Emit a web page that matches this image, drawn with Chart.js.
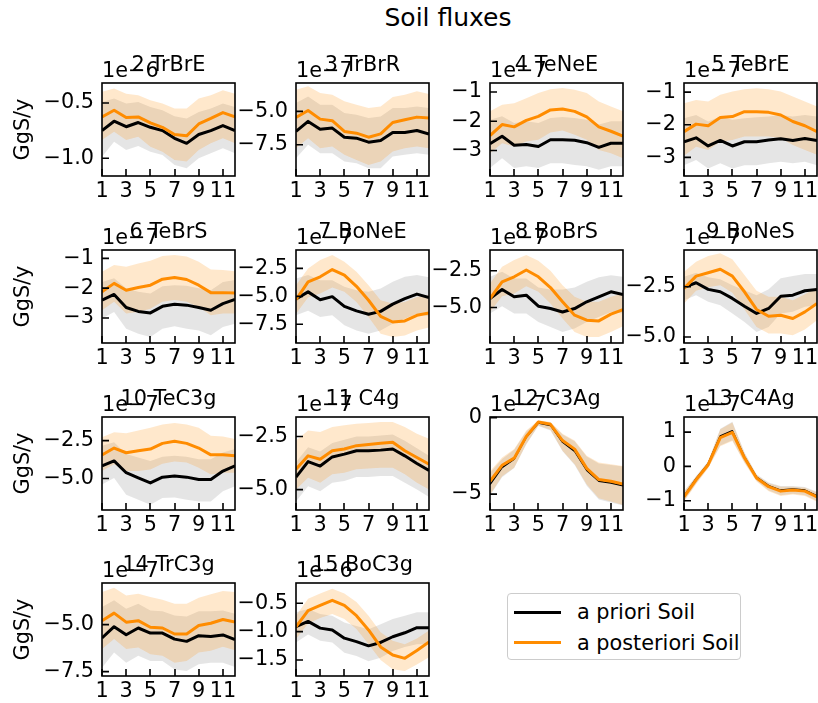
<!DOCTYPE html>
<html>
<head>
<meta charset="utf-8">
<script src="https://cdn.jsdelivr.net/npm/chart.js@4.4.1/dist/chart.umd.min.js"></script>
<style>
html,body{margin:0;padding:0;background:#fff;}
body{width:818px;height:703px;position:relative;overflow:hidden;font-family:"DejaVu Sans",sans-serif;}
#suptitle{position:absolute;left:298px;top:5px;width:300px;text-align:center;font-size:25px;line-height:25px;color:#000;}
#legend{position:absolute;left:507px;top:593px;width:234px;height:67px;border:1px solid #cccccc;border-radius:4px;box-sizing:border-box;background:#fff;}
.lg-line{position:absolute;left:6px;width:47px;height:3px;}
.lg-text{position:absolute;left:69px;font-size:20.8px;line-height:24px;white-space:nowrap;color:#000;}
canvas{position:absolute;}
</style>
</head>
<body>
<div id="suptitle">Soil fluxes</div>
<div id="legend">
  <div class="lg-line" style="top:17px;background:#000;"></div>
  <div class="lg-text" style="top:6px;">a priori Soil</div>
  <div class="lg-line" style="top:47px;background:#ff8c00;"></div>
  <div class="lg-text" style="top:37px;">a posteriori Soil</div>
</div>
<script>
// ---------------- DATA ----------------
const months = [1,2,3,4,5,6,7,8,9,10,11,12];
const xTicks = [1,3,5,7,9,11];
const xTickLabels = ['1','3','5','7','9','11'];
const seriesLabels = ['a priori Soil','a posteriori Soil'];

// Panel 2 TrBrE (x1e-6)
const p2_prior   = [-0.75,-0.665,-0.715,-0.677,-0.72,-0.75,-0.82,-0.865,-0.785,-0.75,-0.705,-0.75];
const p2_priorHi = [-0.491,-0.461,-0.506,-0.491,-0.536,-0.566,-0.62,-0.641,-0.581,-0.551,-0.506,-0.536];
const p2_priorLo = [-0.985,-0.85,-0.925,-0.89,-0.94,-0.97,-1.06,-1.09,-1.0,-0.955,-0.91,-0.955];
const p2_post    = [-0.626,-0.566,-0.632,-0.626,-0.68,-0.72,-0.785,-0.797,-0.69,-0.64,-0.587,-0.626];
const p2_postHi  = [-0.40,-0.37,-0.416,-0.43,-0.476,-0.506,-0.55,-0.55,-0.46,-0.43,-0.386,-0.416];
const p2_postLo  = [-0.835,-0.76,-0.835,-0.805,-0.895,-0.94,-1.015,-1.03,-0.925,-0.865,-0.82,-0.865];
const p2_yTicks = [-1.0,-0.5]; const p2_yLabels = ['−1.0','−0.5']; const p2_yRange = [-1.16,-0.32];

// Panel 3 TrBrR (x1e-7)
const p3_prior   = [-6.5,-5.75,-6.33,-6.25,-6.93,-7.0,-7.3,-7.18,-6.58,-6.58,-6.43,-6.7];
const p3_priorHi = [-4.38,-3.88,-4.5,-4.5,-5.13,-5.25,-5.5,-5.38,-4.75,-4.75,-4.63,-4.75];
const p3_priorLo = [-8.5,-7.5,-8.13,-8.13,-8.75,-8.88,-9.25,-9.25,-8.38,-8.25,-8.13,-8.25];
const p3_post    = [-5.45,-4.93,-5.58,-5.7,-6.5,-6.63,-6.93,-6.68,-5.83,-5.63,-5.43,-5.5];
const p3_postHi  = [-3.38,-3.13,-3.63,-3.75,-4.25,-4.5,-4.75,-4.63,-3.93,-3.75,-3.5,-3.7];
const p3_postLo  = [-7.75,-7.0,-7.75,-7.63,-8.25,-8.63,-9.0,-8.75,-8.0,-7.75,-7.63,-7.75];
const p3_yTicks = [-7.5,-5.0]; const p3_yLabels = ['−7.5','−5.0']; const p3_yRange = [-9.83,-2.88];

// Panel 4 TeNeE (x1e-7)
const p4_prior   = [-2.77,-2.51,-2.82,-2.79,-2.86,-2.63,-2.63,-2.65,-2.73,-2.89,-2.75,-2.75];
const p4_priorHi = [-1.95,-1.83,-2.06,-2.0,-2.06,-1.89,-1.85,-1.89,-1.95,-2.11,-2.0,-2.0];
const p4_priorLo = [-3.6,-3.26,-3.6,-3.54,-3.6,-3.43,-3.43,-3.49,-3.54,-3.66,-3.54,-3.54];
const p4_post    = [-2.49,-2.11,-2.19,-1.97,-1.83,-1.61,-1.58,-1.66,-1.85,-2.19,-2.34,-2.51];
const p4_postHi  = [-1.66,-1.43,-1.38,-1.21,-1.03,-0.9,-0.86,-0.92,-1.03,-1.32,-1.49,-1.66];
const p4_postLo  = [-3.09,-2.75,-2.86,-2.69,-2.63,-2.38,-2.31,-2.46,-2.63,-2.98,-3.09,-3.26];
const p4_yTicks = [-3,-2,-1]; const p4_yLabels = ['−3','−2','−1']; const p4_yRange = [-3.87,-0.69];

// Panel 5 TeBrE (x1e-7)
const p5_prior   = [-2.52,-2.4,-2.65,-2.48,-2.65,-2.52,-2.52,-2.47,-2.43,-2.48,-2.42,-2.48];
const p5_priorHi = [-1.8,-1.7,-1.9,-1.75,-1.85,-1.8,-1.77,-1.75,-1.7,-1.75,-1.7,-1.75];
const p5_priorLo = [-3.24,-3.08,-3.34,-3.18,-3.34,-3.24,-3.24,-3.18,-3.13,-3.18,-3.13,-3.24];
const p5_post    = [-2.21,-1.98,-2.03,-1.78,-1.75,-1.6,-1.6,-1.62,-1.7,-1.9,-2.03,-2.21];
const p5_postHi  = [-1.34,-1.24,-1.29,-1.08,-0.98,-0.91,-0.88,-0.91,-0.98,-1.13,-1.29,-1.44];
const p5_postLo  = [-2.95,-2.67,-2.77,-2.52,-2.47,-2.36,-2.36,-2.36,-2.41,-2.62,-2.77,-2.92];
const p5_yTicks = [-3,-2,-1]; const p5_yLabels = ['−3','−2','−1']; const p5_yRange = [-3.57,-0.72];

// Panel 6 TeBrS (x1e-7)
const p6_prior   = [-2.4,-2.21,-2.65,-2.78,-2.83,-2.61,-2.54,-2.57,-2.65,-2.74,-2.52,-2.38];
const p6_priorHi = [-1.79,-1.67,-2.0,-2.12,-2.18,-1.94,-1.9,-1.92,-2.0,-2.07,-1.79,-1.73];
const p6_priorLo = [-3.02,-2.8,-3.36,-3.53,-3.64,-3.36,-3.28,-3.36,-3.42,-3.58,-3.3,-3.19];
const p6_post    = [-2.12,-1.84,-2.07,-1.98,-1.9,-1.7,-1.64,-1.71,-1.9,-2.15,-2.15,-2.16];
const p6_postHi  = [-1.45,-1.22,-1.28,-1.17,-1.08,-0.92,-0.89,-0.94,-1.11,-1.37,-1.39,-1.43];
const p6_postLo  = [-2.74,-2.46,-2.85,-2.8,-2.69,-2.46,-2.4,-2.46,-2.63,-2.91,-2.85,-2.85];
const p6_yTicks = [-3,-2,-1]; const p6_yLabels = ['−3','−2','−1']; const p6_yRange = [-3.84,-0.72];

// Panel 7 BoNeE (x1e-7)
const p7_prior   = [-5.24,-4.6,-5.3,-5.03,-5.9,-6.3,-6.6,-6.35,-5.7,-5.2,-4.8,-5.1];
const p7_priorHi = [-3.4,-3.1,-3.55,-3.55,-4.15,-4.45,-4.6,-4.3,-3.7,-3.25,-3.1,-3.3];
const p7_priorLo = [-6.7,-6.3,-6.85,-6.7,-7.6,-8.05,-8.35,-8.05,-7.45,-7.0,-6.55,-6.8];
const p7_post    = [-5.3,-3.7,-3.25,-2.6,-3.1,-4.1,-5.35,-6.8,-7.3,-7.2,-6.7,-6.5];
const p7_postHi  = [-4.0,-2.5,-1.75,-1.3,-1.9,-2.8,-4.0,-5.35,-5.65,-5.5,-5.05,-4.9];
const p7_postLo  = [-6.55,-5.1,-4.75,-4.2,-4.6,-5.5,-6.85,-8.35,-8.65,-8.5,-8.05,-7.8];
const p7_yTicks = [-7.5,-5.0,-2.5]; const p7_yLabels = ['−7.5','−5.0','−2.5']; const p7_yRange = [-9.18,-0.85];

// Panel 8 BoBrS (x1e-7)
const p8_prior   = [-4.39,-3.77,-4.27,-4.16,-4.91,-5.07,-5.3,-5.07,-4.61,-4.27,-3.93,-4.11];
const p8_priorHi = [-2.91,-2.57,-3.02,-3.02,-3.64,-3.77,-3.77,-3.64,-3.25,-2.95,-2.8,-2.91];
const p8_priorLo = [-5.41,-4.91,-5.41,-5.41,-5.98,-6.32,-6.66,-6.43,-5.98,-5.64,-5.3,-5.41];
const p8_post    = [-4.39,-3.25,-2.91,-2.45,-2.91,-3.64,-4.61,-5.52,-5.86,-5.91,-5.45,-5.14];
const p8_postHi  = [-3.36,-2.23,-1.77,-1.43,-1.82,-2.5,-3.48,-4.27,-4.61,-4.61,-4.27,-4.05];
const p8_postLo  = [-5.3,-4.23,-4.05,-3.55,-3.93,-4.73,-5.75,-6.66,-7.0,-7.0,-6.66,-6.27];
const p8_yTicks = [-5.0,-2.5]; const p8_yLabels = ['−5.0','−2.5']; const p8_yRange = [-7.41,-1.09];

// Panel 9 BoNeS (x1e-7)
const p9_prior   = [-2.53,-2.3,-2.63,-2.75,-3.08,-3.47,-3.83,-3.58,-2.97,-2.92,-2.7,-2.63];
const p9_priorHi = [-2.0,-1.8,-2.03,-2.13,-2.42,-2.67,-2.92,-2.63,-2.08,-1.97,-1.87,-1.87];
const p9_priorLo = [-3.17,-2.92,-3.25,-3.42,-3.83,-4.25,-4.75,-4.5,-3.83,-3.75,-3.5,-3.42];
const p9_post    = [-2.58,-1.97,-1.8,-1.63,-1.97,-2.75,-3.63,-3.97,-3.92,-4.08,-3.75,-3.33];
const p9_postHi  = [-1.75,-1.25,-0.97,-0.83,-1.13,-1.92,-2.7,-3.0,-3.0,-3.17,-2.87,-2.53];
const p9_postLo  = [-3.33,-2.7,-2.53,-2.42,-2.8,-3.63,-4.5,-4.83,-4.83,-4.92,-4.63,-4.17];
const p9_yTicks = [-5.0,-2.5]; const p9_yLabels = ['−5.0','−2.5']; const p9_yRange = [-5.3,-0.67];

// Panel 10 TeC3g (x1e-7)
const p10_prior   = [-4.17,-3.84,-4.62,-4.96,-5.29,-4.91,-4.84,-4.91,-5.07,-5.07,-4.51,-4.17];
const p10_priorHi = [-2.83,-2.61,-3.39,-3.62,-3.84,-3.57,-3.5,-3.57,-3.73,-3.73,-3.28,-3.06];
const p10_priorLo = [-5.4,-4.96,-6.07,-6.41,-6.74,-6.29,-6.25,-6.41,-6.52,-6.52,-5.85,-5.51];
const p10_post    = [-3.44,-2.99,-3.3,-3.17,-3.06,-2.68,-2.54,-2.68,-2.99,-3.44,-3.44,-3.5];
const p10_postHi  = [-2.28,-1.94,-2.01,-1.83,-1.65,-1.43,-1.34,-1.43,-1.65,-2.17,-2.23,-2.39];
const p10_postLo  = [-4.51,-4.06,-4.51,-4.51,-4.4,-4.02,-3.88,-3.95,-4.29,-4.73,-4.62,-4.62];
const p10_yTicks = [-5.0,-2.5]; const p10_yLabels = ['−5.0','−2.5']; const p10_yRange = [-7.08,-0.94];

// Panel 11 C4g (x1e-7)
const p11_prior   = [-4.41,-3.68,-3.89,-3.46,-3.33,-3.17,-3.17,-3.14,-3.09,-3.41,-3.77,-4.1];
const p11_priorHi = [-3.7,-3.0,-3.2,-2.8,-2.65,-2.5,-2.5,-2.45,-2.4,-2.7,-3.05,-3.4];
const p11_priorLo = [-5.56,-4.84,-5.08,-4.68,-4.6,-4.41,-4.41,-4.36,-4.36,-4.68,-5.0,-5.35];
const p11_post    = [-4.04,-3.41,-3.57,-3.17,-3.09,-2.93,-2.88,-2.82,-2.77,-3.17,-3.49,-3.8];
const p11_postHi  = [-2.69,-2.21,-2.29,-2.05,-1.97,-1.9,-1.86,-1.82,-1.82,-2.05,-2.37,-2.6];
const p11_postLo  = [-5.0,-4.44,-4.68,-4.28,-4.2,-4.04,-4.0,-3.97,-3.97,-4.28,-4.68,-5.0];
const p11_yTicks = [-5.0,-2.5]; const p11_yLabels = ['−5.0','−2.5']; const p11_yRange = [-5.96,-1.58];

// Panel 12 C3Ag (x1e-7)
const p12_prior   = [-4.38,-3.27,-2.72,-1.28,-0.35,-0.51,-1.61,-2.21,-3.45,-4.16,-4.27,-4.45];
const p12_priorHi = [-3.6,-2.7,-2.1,-0.9,-0.2,-0.3,-1.1,-1.55,-2.55,-3.0,-3.1,-3.2];
const p12_priorLo = [-5.1,-3.9,-3.3,-1.75,-0.55,-0.85,-2.2,-3.1,-4.45,-5.35,-5.55,-5.75];
const p12_post    = [-4.16,-3.12,-2.65,-1.24,-0.29,-0.44,-1.5,-2.06,-3.32,-4.05,-4.16,-4.34];
const p12_postHi  = [-3.5,-2.61,-2.06,-0.84,-0.18,-0.29,-1.06,-1.5,-2.5,-2.94,-3.05,-3.16];
const p12_postLo  = [-5.05,-3.83,-3.27,-1.72,-0.51,-0.8,-2.17,-3.05,-4.38,-5.27,-5.49,-5.71];
const p12_yTicks = [-5,0]; const p12_yLabels = ['−5','0']; const p12_yRange = [-6.04,0.04];

// Panel 13 C4Ag (x1e-7)
const p13_prior   = [-0.86,-0.36,0.08,0.89,1.04,0.28,-0.31,-0.56,-0.69,-0.66,-0.69,-0.86];
const p13_priorHi = [-0.72,-0.28,0.15,1.1,1.3,0.41,-0.23,-0.47,-0.57,-0.57,-0.6,-0.74];
const p13_priorLo = [-1.01,-0.5,-0.03,0.61,0.76,0.12,-0.42,-0.7,-0.84,-0.8,-0.84,-1.01];
const p13_post    = [-0.89,-0.39,0.05,0.84,0.99,0.25,-0.34,-0.59,-0.72,-0.69,-0.72,-0.89];
const p13_postHi  = [-0.74,-0.3,0.13,1.08,1.28,0.39,-0.25,-0.49,-0.59,-0.59,-0.62,-0.76];
const p13_postLo  = [-1.03,-0.52,-0.05,0.59,0.74,0.1,-0.44,-0.72,-0.86,-0.82,-0.86,-1.03];
const p13_yTicks = [-1,0,1]; const p13_yLabels = ['−1','0','1']; const p13_yRange = [-1.27,1.44];

// Panel 14 TrC3g (x1e-7)
const p14_prior   = [-5.71,-5.11,-5.54,-5.18,-5.45,-5.45,-5.77,-5.89,-5.59,-5.63,-5.55,-5.8];
const p14_priorHi = [-4.07,-3.71,-4.16,-3.89,-4.25,-4.29,-4.52,-4.57,-4.29,-4.29,-4.25,-4.43];
const p14_priorLo = [-7.29,-6.48,-7.02,-6.66,-6.93,-6.93,-7.38,-7.46,-7.11,-7.02,-7.02,-7.25];
const p14_post    = [-4.79,-4.39,-4.87,-4.79,-5.14,-5.18,-5.5,-5.5,-5.05,-4.93,-4.73,-4.87];
const p14_postHi  = [-3.27,-3.04,-3.45,-3.36,-3.54,-3.68,-3.89,-3.89,-3.57,-3.39,-3.21,-3.27];
const p14_postLo  = [-6.3,-5.77,-6.3,-6.21,-6.57,-6.66,-7.02,-6.93,-6.48,-6.39,-6.18,-6.36];
const p14_yTicks = [-7.5,-5.0]; const p14_yLabels = ['−7.5','−5.0']; const p14_yRange = [-7.73,-2.79];

// Panel 15 BoC3g (x1e-6)
const p15_prior   = [-0.914,-0.82,-0.938,-0.973,-1.115,-1.175,-1.25,-1.19,-1.09,-1.02,-0.93,-0.93];
const p15_priorHi = [-0.66,-0.6,-0.69,-0.72,-0.84,-0.9,-0.96,-0.87,-0.78,-0.72,-0.66,-0.66];
const p15_priorLo = [-1.19,-1.05,-1.16,-1.19,-1.37,-1.43,-1.52,-1.46,-1.34,-1.27,-1.22,-1.22];
const p15_post    = [-0.914,-0.63,-0.54,-0.45,-0.54,-0.72,-0.97,-1.27,-1.41,-1.47,-1.33,-1.18];
const p15_postHi  = [-0.72,-0.42,-0.33,-0.245,-0.33,-0.48,-0.72,-1.01,-1.16,-1.22,-1.12,-0.98];
const p15_postLo  = [-1.13,-0.855,-0.76,-0.69,-0.78,-0.955,-1.22,-1.5,-1.66,-1.69,-1.58,-1.45];
const p15_yTicks = [-1.5,-1.0,-0.5]; const p15_yLabels = ['−1.5','−1.0','−0.5']; const p15_yRange = [-1.78,-0.145];

const panelTitles = ['2 TrBrE','3 TrBrR','4 TeNeE','5 TeBrE','6 TeBrS','7 BoNeE','8 BoBrS','9 BoNeS','10 TeC3g','11 C4g','12 C3Ag','13 C4Ag','14 TrC3g','15 BoC3g'];
const offsetTexts = ['1e−6','1e−7','1e−7','1e−7','1e−7','1e−7','1e−7','1e−7','1e−7','1e−7','1e−7','1e−7','1e−7','1e−6'];
const yAxisLabel = 'GgS/y';

// ---------------- TABLE BUILT FROM THE ARRAYS ----------------
const panels = [
 [p2_prior,p2_priorHi,p2_priorLo,p2_post,p2_postHi,p2_postLo,p2_yTicks,p2_yLabels,p2_yRange],
 [p3_prior,p3_priorHi,p3_priorLo,p3_post,p3_postHi,p3_postLo,p3_yTicks,p3_yLabels,p3_yRange],
 [p4_prior,p4_priorHi,p4_priorLo,p4_post,p4_postHi,p4_postLo,p4_yTicks,p4_yLabels,p4_yRange],
 [p5_prior,p5_priorHi,p5_priorLo,p5_post,p5_postHi,p5_postLo,p5_yTicks,p5_yLabels,p5_yRange],
 [p6_prior,p6_priorHi,p6_priorLo,p6_post,p6_postHi,p6_postLo,p6_yTicks,p6_yLabels,p6_yRange],
 [p7_prior,p7_priorHi,p7_priorLo,p7_post,p7_postHi,p7_postLo,p7_yTicks,p7_yLabels,p7_yRange],
 [p8_prior,p8_priorHi,p8_priorLo,p8_post,p8_postHi,p8_postLo,p8_yTicks,p8_yLabels,p8_yRange],
 [p9_prior,p9_priorHi,p9_priorLo,p9_post,p9_postHi,p9_postLo,p9_yTicks,p9_yLabels,p9_yRange],
 [p10_prior,p10_priorHi,p10_priorLo,p10_post,p10_postHi,p10_postLo,p10_yTicks,p10_yLabels,p10_yRange],
 [p11_prior,p11_priorHi,p11_priorLo,p11_post,p11_postHi,p11_postLo,p11_yTicks,p11_yLabels,p11_yRange],
 [p12_prior,p12_priorHi,p12_priorLo,p12_post,p12_postHi,p12_postLo,p12_yTicks,p12_yLabels,p12_yRange],
 [p13_prior,p13_priorHi,p13_priorLo,p13_post,p13_postHi,p13_postLo,p13_yTicks,p13_yLabels,p13_yRange],
 [p14_prior,p14_priorHi,p14_priorLo,p14_post,p14_postHi,p14_postLo,p14_yTicks,p14_yLabels,p14_yRange],
 [p15_prior,p15_priorHi,p15_priorLo,p15_post,p15_postHi,p15_postLo,p15_yTicks,p15_yLabels,p15_yRange]
];

// ---------------- LAYOUT / STYLE ----------------
const colLefts = [102, 296, 490, 684];
const rowTops = [83, 250, 417, 583];
const AREA_W = 133, AREA_H = 93;
const LM = 100, TM = 45, RM = 12, BM = 30;
const FONT = '"DejaVu Sans", sans-serif';
const FS = 20.8;
const ORANGE = '#ff8c00';

Chart.defaults.font.family = FONT;
Chart.defaults.color = '#000';

const pts = arr => months.map((m, i) => ({x: m, y: arr[i]}));

const decor = {
  id: 'decor',
  afterDraw(chart, args, o) {
    const {ctx, chartArea: a} = chart;
    const xs = chart.scales.x, ys = chart.scales.y;
    ctx.save();
    ctx.strokeStyle = '#000';
    ctx.lineWidth = 1.6;
    ctx.beginPath();
    for (const v of xTicks) {
      const px = Math.round(xs.getPixelForValue(v));
      ctx.moveTo(px, a.bottom);
      ctx.lineTo(px, a.bottom - 7);
    }
    for (const v of o.yTicks) {
      const py = ys.getPixelForValue(v);
      ctx.moveTo(a.left, py);
      ctx.lineTo(a.left + 7, py);
    }
    ctx.stroke();
    ctx.strokeRect(a.left, a.top, a.right - a.left, a.bottom - a.top);
    ctx.fillStyle = '#000';
    ctx.font = FS + 'px ' + FONT;
    ctx.textBaseline = 'alphabetic';
    ctx.textAlign = 'left';
    ctx.fillText(o.offset, a.left, a.top - 6.5);
    ctx.textAlign = 'center';
    ctx.fillText(o.title, (a.left + a.right) / 2, a.top - 12);
    if (o.ylabel) {
      ctx.save();
      ctx.translate(o.ylabelX, (a.top + a.bottom) / 2);
      ctx.rotate(-Math.PI / 2);
      ctx.textAlign = 'center';
      ctx.fillText(o.ylabel, 0, 0);
      ctx.restore();
    }
    ctx.restore();
  }
};

panels.forEach((p, i) => {
  const [prior, priorHi, priorLo, post, postHi, postLo, yT, yL, yR] = p;
  const row = Math.floor(i / 4), col = i % 4;
  const W = LM + AREA_W + RM, H = TM + AREA_H + BM;
  const left = colLefts[col] - LM, top = rowTops[row] - TM;
  const c = document.createElement('canvas');
  c.width = W; c.height = H;
  c.style.left = left + 'px'; c.style.top = top + 'px';
  c.style.width = W + 'px'; c.style.height = H + 'px';
  document.body.appendChild(c);
  const thin = (i === 10 || i === 11);
  new Chart(c, {
    type: 'line',
    data: {
      datasets: [
        {data: pts(priorLo), borderColor: 'rgba(0,0,0,0)', borderWidth: 0, pointRadius: 0, fill: false, order: 5},
        {data: pts(priorHi), borderColor: 'rgba(0,0,0,0)', borderWidth: 0, pointRadius: 0, fill: '-1', backgroundColor: 'rgba(0,0,0,0.1)', order: 4},
        {data: pts(postLo), borderColor: 'rgba(0,0,0,0)', borderWidth: 0, pointRadius: 0, fill: false, order: 3},
        {data: pts(postHi), borderColor: 'rgba(0,0,0,0)', borderWidth: 0, pointRadius: 0, fill: '-1', backgroundColor: 'rgba(255,140,0,0.2)', order: 2},
        {label: seriesLabels[0], data: pts(prior), borderColor: '#000', borderWidth: thin ? 1.5 : 3, pointRadius: 0, fill: false, order: 1},
        {label: seriesLabels[1], data: pts(post), borderColor: ORANGE, borderWidth: 3, pointRadius: 0, fill: false, order: 0}
      ]
    },
    options: {
      responsive: false,
      animation: false,
      devicePixelRatio: 1,
      events: [],
      layout: {padding: {top: TM, right: RM, left: 0, bottom: 0}},
      elements: {line: {tension: 0, borderJoinStyle: 'round', borderCapStyle: 'butt'}},
      plugins: {
        legend: {display: false},
        tooltip: {enabled: false},
        title: {display: false},
        decor: {
          yTicks: yT,
          title: panelTitles[i],
          offset: offsetTexts[i],
          ylabel: col === 0 ? yAxisLabel : null,
          ylabelX: 28.5 - left
        }
      },
      scales: {
        x: {
          type: 'linear', min: 1, max: 12,
          grid: {display: false, drawTicks: false},
          border: {display: false},
          afterBuildTicks: s => { s.ticks = xTicks.map(v => ({value: v})); },
          afterFit: s => { s.height = BM; },
          ticks: {autoSkip: false, maxRotation: 0, padding: 3, color: '#000',
                  font: {family: FONT, size: FS},
                  callback: (v, idx) => xTickLabels[idx]}
        },
        y: {
          type: 'linear', min: yR[0], max: yR[1],
          grid: {display: false, drawTicks: false},
          border: {display: false},
          afterBuildTicks: s => { s.ticks = yT.map(v => ({value: v})); },
          afterFit: s => { s.width = LM; },
          ticks: {autoSkip: false, padding: 8, color: '#000',
                  font: {family: FONT, size: FS},
                  callback: (v, idx) => yL[idx]}
        }
      }
    },
    plugins: [decor]
  });
});
</script>
</body>
</html>
